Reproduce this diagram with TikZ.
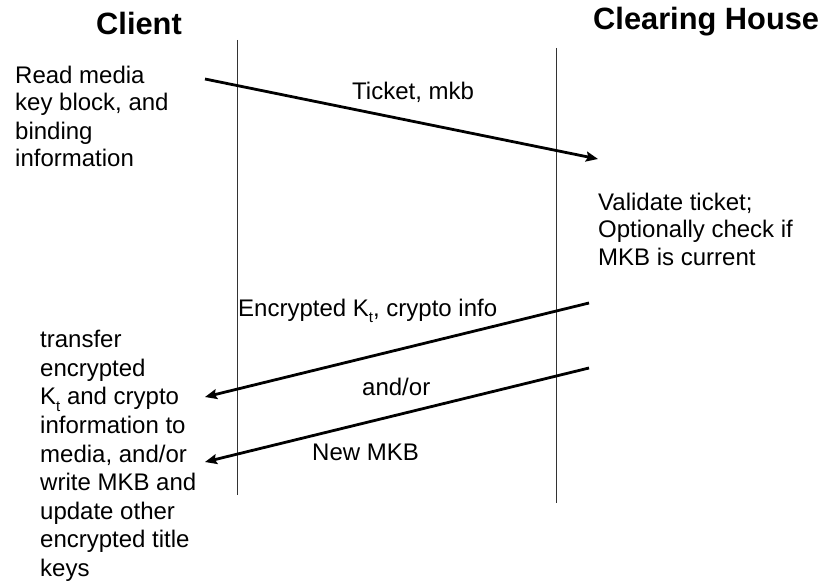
\documentclass[tikz,border=0pt]{standalone}
\usepackage{fontspec}
\setmainfont{Liberation Sans}
\usetikzlibrary{arrows.meta}
\newcommand{\subt}{\raisebox{-0.28em}{\fontsize{15}{15}\selectfont t}}
\begin{document}
\begin{tikzpicture}[x=1pt,y=-1pt,
  txt/.style={inner sep=0pt,font=\fontsize{24}{28}\selectfont,align=left},
  ttl/.style={inner sep=0pt,font=\fontsize{30.8}{34}\selectfont\bfseries},
  life/.style={line width=0.9pt,black!80},
  msg/.style={line width=2.8pt,-{Stealth[length=12pt,width=10pt,inset=2pt]}}]
\useasboundingbox (0,0) rectangle (827,583);
% lifelines
\coordinate (cl1) at (237,40);
\coordinate (cl2) at (237,495);
\coordinate (ch1) at (556,48);
\coordinate (ch2) at (556,503);
\draw[life] (cl1) -- (cl2);
\draw[life] (ch1) -- (ch2);
% titles
\node[ttl,anchor=base] (client) at (139,35) {Client};
\node[ttl,anchor=base west] (house) at (593,30) {Clearing House};
% notes (base anchor = baseline of last line)
\node[txt,anchor=base west] (read) at (15,167) {Read media\\key block, and\\binding\\information};
\node[txt,anchor=base west,font=\fontsize{24}{27.5}\selectfont] (valid) at (598,265) {Validate ticket;\\Optionally check if\\MKB is current};
\node[txt,anchor=base west,font=\fontsize{24}{28.6}\selectfont] (transfer) at (40,576.5) {transfer\\encrypted\\K\subt{} and crypto\\information to\\media, and/or\\write MKB and\\update other\\encrypted title\\keys};
% messages
\coordinate (a1s) at (205,79);
\coordinate (a1e) at (598,159);
\coordinate (a2s) at (589,303);
\coordinate (a2e) at (205,397);
\coordinate (a3s) at (589,368);
\coordinate (a3e) at (205,462);
\draw[msg] (a1s) -- (a1e);
\draw[msg] (a2s) -- (a2e);
\draw[msg] (a3s) -- (a3e);
% labels
\node[txt,anchor=base west] (l1) at (352,100) {Ticket, mkb};
\node[txt,anchor=base west] (l2) at (238,316) {Encrypted K\subt, crypto info};
\node[txt,anchor=base west] (l3) at (362,395) {and/or};
\node[txt,anchor=base west] (l4) at (312,460) {New MKB};
\end{tikzpicture}
\end{document}
